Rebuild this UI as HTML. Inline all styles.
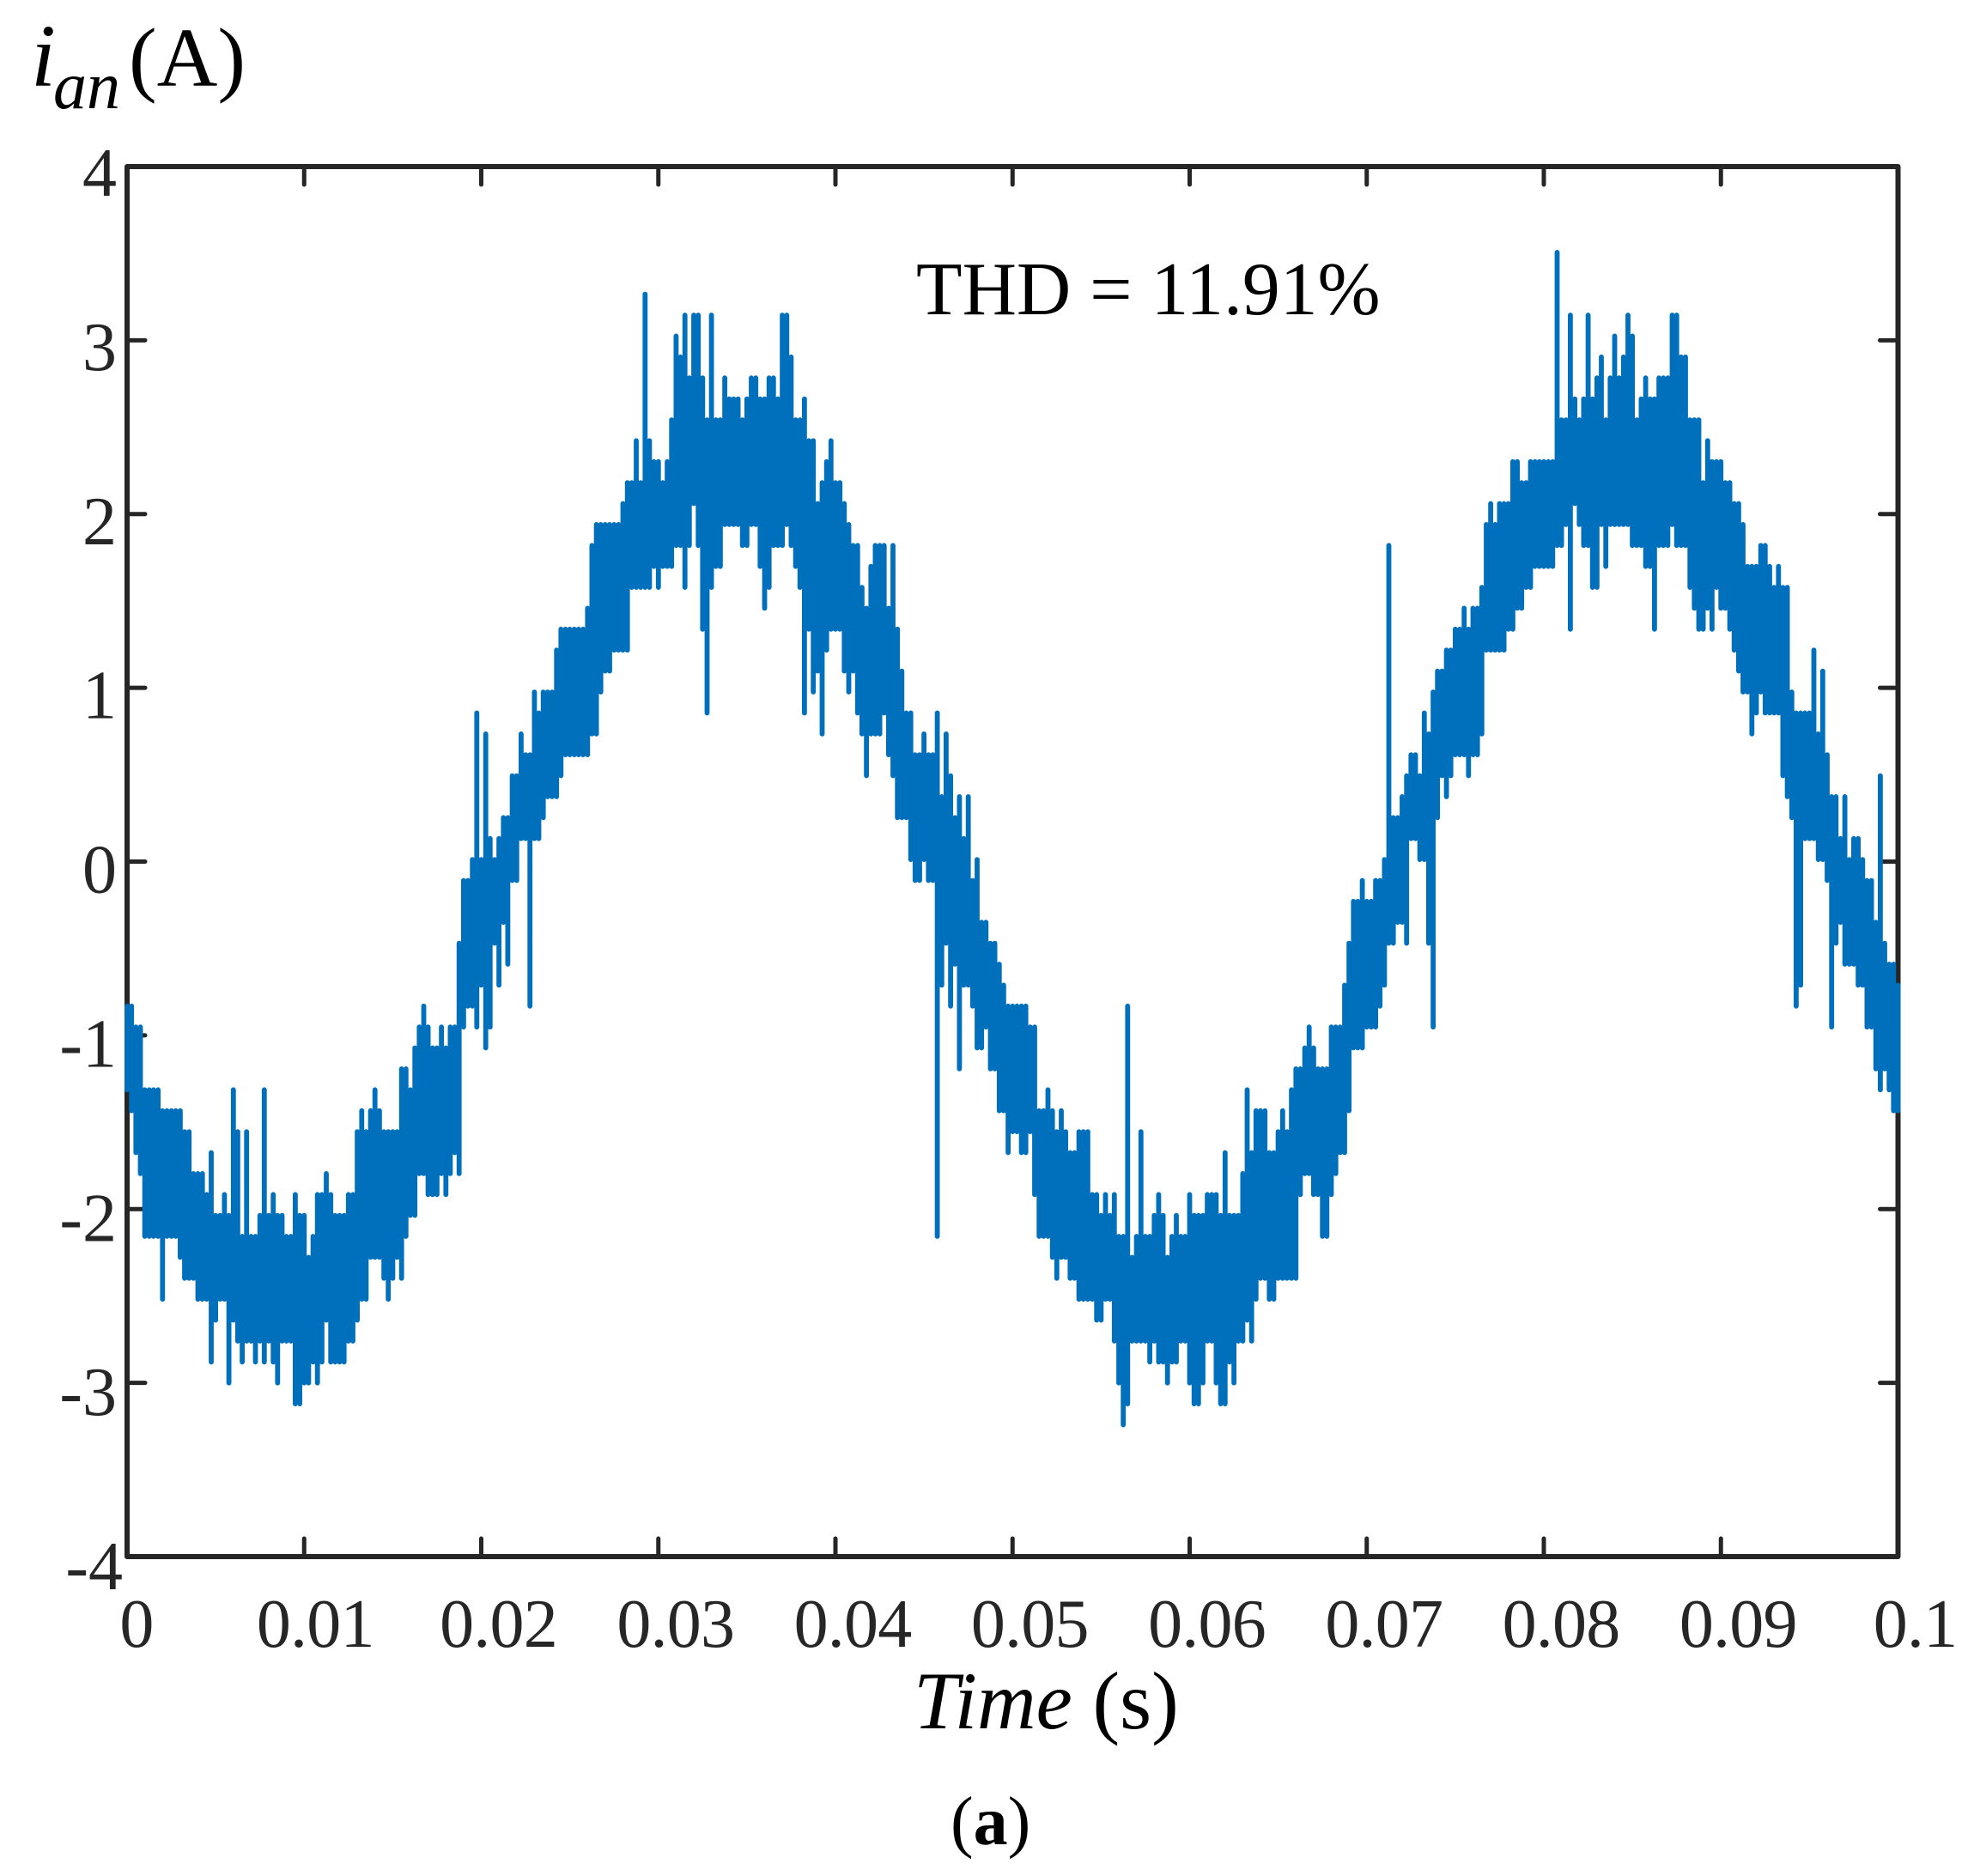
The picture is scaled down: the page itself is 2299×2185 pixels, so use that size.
<!DOCTYPE html>
<html lang="en">
<head>
<meta charset="utf-8">
<title>Phase current waveform</title>
<style>
html,body{margin:0;padding:0;background:#fff;}
svg{display:block;}
text{font-family:"Liberation Serif","Times New Roman",serif;}
.tick-label{font-size:80px;fill:#262626;}
</style>
</head>
<body>
<svg id="chart" xmlns="http://www.w3.org/2000/svg" width="2299" height="2185" viewBox="0 0 2299 2185">
  <rect x="0" y="0" width="2299" height="2185" fill="#ffffff"/>
  <g id="ticks"></g>
  <rect x="148" y="194" width="2062.5" height="1619" fill="none" stroke="#262626" stroke-width="6" stroke-linejoin="round"/>
  <path id="series" fill="none" stroke="#0070BD" stroke-width="5.8" stroke-linejoin="round" stroke-linecap="round"/>
  <g id="labels"></g>
  <g fill="#000000">
    <text x="36" y="100" font-size="104" font-style="italic">i</text>
    <text x="62" y="126" font-size="78" font-style="italic">an</text>
    <text x="150" y="100" font-size="98">(A)</text>
  </g>
  <text x="1067" y="366" font-size="87.7" fill="#000000">THD = 11.91%</text>
  <text x="1064" y="2013" font-size="95" fill="#000000"><tspan font-style="italic">Time</tspan> (s)</text>
  <text x="1107" y="2148" font-size="80" fill="#000000">(<tspan font-weight="bold">a</tspan>)</text>
</svg>
<script>
// Chart data. Each sample column has a highest and a lowest
// reading, expressed in converter counts.
const ampsPerCount = 0.1205;
const countOffsetAmps = 0.012;
const sampleStepSeconds = 0.00025;
const upperCounts = [
-7,-7,-8,-8,-11,-11,-11,-11,-12,-12,
-12,-12,-12,-13,-13,-15,-15,-15,-16,-14,
-17,-17,-16,-17,-11,-13,-18,-13,-18,-18,
-17,-11,-17,-16,-17,-17,-18,-18,-16,-17,
-17,-19,-18,-16,-16,-15,-16,-17,-17,-17,
-16,-16,-13,-12,-13,-12,-11,-12,-13,-13,
-13,-13,-10,-10,-11,-9,-8,-7,-8,-9,
-9,-8,-9,-8,-8,-4,-1,-1,0,7,
0,6,1,0,1,2,2,4,4,6,
5,5,8,7,8,8,8,10,11,11,
11,11,11,11,12,15,16,16,16,16,
16,16,17,18,18,20,18,27,20,19,
19,18,19,21,25,24,26,23,26,26,
23,21,26,21,21,23,22,22,22,21,
22,23,23,22,22,23,23,22,26,26,
24,21,21,22,20,20,17,18,19,20,
18,18,17,16,15,15,13,12,14,15,
15,15,12,15,11,9,7,7,5,5,
6,5,5,7,3,6,4,2,3,1,
3,-1,0,-3,-3,-4,-4,-5,-6,-7,
-7,-7,-7,-7,-8,-8,-12,-12,-11,-12,
-13,-12,-13,-14,-14,-13,-13,-13,-16,-16,
-17,-16,-17,-16,-18,-18,-7,-19,-18,-13,
-18,-18,-17,-16,-17,-19,-18,-17,-18,-18,
-16,-17,-17,-17,-16,-16,-16,-17,-14,-17,
-17,-17,-15,-11,-14,-12,-12,-12,-14,-14,
-13,-12,-13,-11,-10,-10,-9,-8,-9,-10,
-10,-10,-8,-8,-8,-6,-4,-2,-2,-1,
-2,-2,-1,-1,0,15,2,2,3,4,
5,5,4,7,6,8,9,9,10,10,
11,11,12,11,12,12,13,16,17,16,
17,17,17,19,19,18,18,19,19,19,
19,19,19,29,21,21,26,22,21,22,
26,22,23,24,21,23,25,23,24,26,
25,21,22,23,22,22,23,23,23,26,
26,24,24,21,21,21,18,20,19,19,
19,18,18,17,17,16,14,14,14,15,
15,14,13,14,13,13,8,7,7,7,
7,10,6,9,5,3,3,1,3,0,
1,1,0,-1,-1,-3,4,-4,-5,-5,-6
];
const lowerCounts = [
-11,-12,-14,-15,-18,-18,-18,-18,-21,-18,
-18,-18,-19,-20,-20,-20,-21,-21,-21,-24,
-22,-21,-21,-25,-22,-23,-24,-23,-23,-24,
-23,-24,-23,-24,-25,-23,-23,-23,-26,-26,
-25,-25,-24,-25,-24,-22,-24,-24,-24,-24,
-23,-23,-22,-21,-21,-19,-19,-19,-20,-21,
-20,-19,-20,-18,-17,-17,-15,-15,-16,-16,
-16,-15,-16,-15,-14,-15,-8,-7,-7,-8,
-6,-9,-8,-4,-6,-3,-5,-1,-1,1,
1,-7,1,1,2,3,3,3,4,5,
5,5,5,5,5,6,6,8,9,9,
10,10,10,10,13,13,13,13,13,14,
13,14,14,14,15,15,13,15,17,15,
11,7,13,14,14,16,16,16,16,15,
15,16,16,14,12,13,15,15,15,16,
15,14,13,7,11,8,9,6,10,11,
11,11,9,8,9,7,6,4,6,6,
6,7,5,4,2,2,2,0,-1,-1,
0,-1,-1,-18,-6,-4,-7,-5,-10,-6,
-6,-7,-9,-9,-8,-10,-10,-12,-12,-14,
-13,-13,-14,-14,-13,-16,-18,-18,-18,-19,
-20,-19,-19,-20,-20,-21,-21,-21,-21,-22,
-22,-21,-21,-23,-25,-27,-26,-23,-23,-23,
-23,-24,-23,-24,-24,-25,-24,-24,-23,-23,
-25,-26,-26,-25,-23,-23,-25,-26,-26,-24,
-25,-23,-23,-22,-23,-21,-20,-20,-21,-21,
-20,-20,-20,-20,-20,-16,-15,-15,-16,-16,
-18,-18,-16,-15,-14,-14,-12,-9,-9,-9,
-8,-8,-8,-7,-6,-4,-4,-3,-3,-4,
1,1,0,0,-4,-8,2,4,3,4,
5,5,5,4,5,5,6,10,10,10,
10,10,11,11,12,12,13,13,14,14,
14,14,14,15,15,16,11,17,16,15,
15,13,13,16,14,16,16,16,16,16,
15,15,15,14,14,11,15,15,15,16,
15,15,15,13,12,11,11,12,11,13,
12,12,11,10,9,8,8,6,7,8,
7,7,7,7,4,3,2,-7,-6,1,
1,1,0,0,-1,-8,-4,-3,-5,-5,
-5,-6,-6,-8,-8,-10,-11,-10,-11,-12,-12
];
const xTickValues = [0, 0.01, 0.02, 0.03, 0.04, 0.05, 0.06, 0.07, 0.08, 0.09, 0.1];
const xTickLabels = ["0", "0.01", "0.02", "0.03", "0.04", "0.05", "0.06", "0.07", "0.08", "0.09", "0.1"];
const yTickValues = [4, 3, 2, 1, 0, -1, -2, -3, -4];
const yTickLabels = ["4", "3", "2", "1", "0", "-1", "-2", "-3", "-4"];

// Axis functions
const plotLeft = 148, plotRight = 2210.5, plotTop = 194, plotBottom = 1813;
function xScale(t) { return plotLeft + (t - 0) / 0.1 * (plotRight - plotLeft); }
function yScale(v) { return plotBottom - (v + 4) / 8 * (plotBottom - plotTop); }
function countToAmps(c) { return c * ampsPerCount + countOffsetAmps; }

const svgNS = "http://www.w3.org/2000/svg";
const tickGroup = document.getElementById("ticks");
const labelGroup = document.getElementById("labels");
const tickLength = 21;

function tickLine(x1, y1, x2, y2) {
  const el = document.createElementNS(svgNS, "line");
  el.setAttribute("x1", x1);
  el.setAttribute("y1", y1);
  el.setAttribute("x2", x2);
  el.setAttribute("y2", y2);
  el.setAttribute("stroke", "#262626");
  el.setAttribute("stroke-width", "5");
  el.setAttribute("stroke-linecap", "round");
  tickGroup.appendChild(el);
  return el;
}

xTickValues.forEach(function (t, i) {
  const x = xScale(t);
  if (i > 0 && i < xTickValues.length - 1) {
    const top = tickLine(x, plotTop, x, plotTop + tickLength);
    
    
    const bottom = tickLine(x, plotBottom, x, plotBottom - tickLength);
    
    
  }
  const label = document.createElementNS(svgNS, "text");
  
  
  label.setAttribute("class", "tick-label");
  label.setAttribute("text-anchor", "middle");
  label.setAttribute("letter-spacing", "-0.8");
  label.setAttribute("x", x + (i === 0 ? 11 : i === 1 ? 13 : 20));
  label.setAttribute("y", 1918);
  label.textContent = xTickLabels[i];
  labelGroup.appendChild(label);
});

yTickValues.forEach(function (v, i) {
  const y = yScale(v);
  if (i > 0 && i < yTickValues.length - 1) {
    const left = tickLine(plotLeft, y, plotLeft + tickLength, y);
    
    
    const right = tickLine(plotRight, y, plotRight - tickLength, y);
    
    
  }
  const label = document.createElementNS(svgNS, "text");
  
  
  label.setAttribute("class", "tick-label");
  label.setAttribute("text-anchor", "end");
  label.setAttribute("x", v === -4 ? 143 : 136);
  label.setAttribute("y", y + 36 - 0.5 * v);
  label.textContent = yTickLabels[i];
  labelGroup.appendChild(label);
});

// Series: every column is its own vertical stroke between its highest and lowest reading.
const pathParts = [];
upperCounts.forEach(function (upper, i) {
  const x = xScale(i * sampleStepSeconds).toFixed(1);
  const yHigh = yScale(countToAmps(upper)).toFixed(1);
  const yLow = yScale(countToAmps(lowerCounts[i])).toFixed(1);
  pathParts.push("M" + x + " " + yHigh + "L" + x + " " + yLow);
});
document.getElementById("series").setAttribute("d", pathParts.join(""));
</script>
</body>
</html>
